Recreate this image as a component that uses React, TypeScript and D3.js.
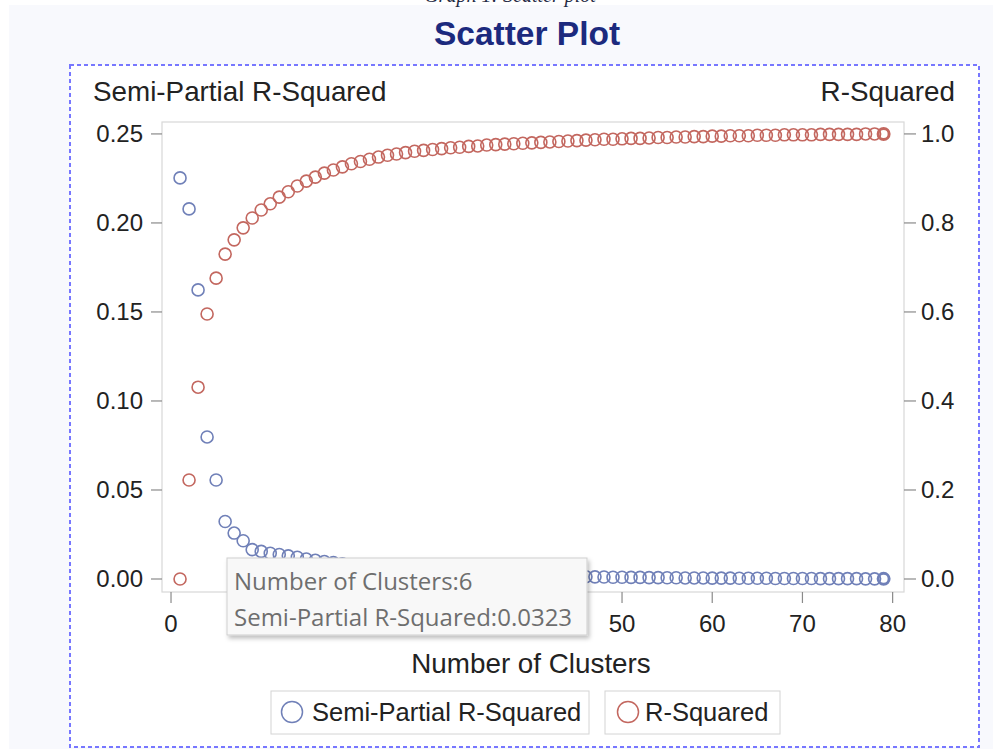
import React from "react";
import * as d3 from "d3";

const clusters: number[] = d3.range(1, 80);

const semiPartialRSq: number[] = [
  0.2253, 0.2079, 0.1624, 0.0798, 0.0556, 0.0323, 0.0258, 0.0215, 0.0165, 0.0155,
  0.0145, 0.0138, 0.013, 0.0122, 0.0112, 0.0105, 0.0098, 0.0092, 0.0086, 0.008,
  0.0075, 0.007, 0.0065, 0.0061, 0.0057, 0.0053, 0.0049, 0.0046, 0.0043, 0.004,
  0.0037, 0.0035, 0.0032, 0.003, 0.0028, 0.0026, 0.0024, 0.0022, 0.0021, 0.0019,
  0.0018, 0.0017, 0.0016, 0.0015, 0.0014, 0.0013, 0.0012, 0.0011, 0.001, 0.001,
  0.0009, 0.0009, 0.0008, 0.0008, 0.0007, 0.0007, 0.0006, 0.0006, 0.0006, 0.0005,
  0.0005, 0.0005, 0.0004, 0.0004, 0.0004, 0.0004, 0.0003, 0.0003, 0.0003, 0.0003,
  0.0003, 0.0002, 0.0002, 0.0002, 0.0002, 0.0002, 0.0001, 0.0001, 0.0001,
];

const rSquared: number[] = [
  0.0, 0.2225, 0.431, 0.5955, 0.676, 0.73, 0.762, 0.789, 0.811, 0.829,
  0.843, 0.858, 0.87, 0.883, 0.894, 0.903, 0.912, 0.919, 0.926, 0.933,
  0.938, 0.943, 0.948, 0.952, 0.955, 0.958, 0.961, 0.963, 0.965, 0.967,
  0.969, 0.97, 0.972, 0.973, 0.975, 0.976, 0.977, 0.978, 0.979, 0.98,
  0.981, 0.982, 0.983, 0.984, 0.985, 0.986, 0.987, 0.988, 0.988, 0.989,
  0.99, 0.99, 0.991, 0.992, 0.992, 0.993, 0.993, 0.994, 0.994, 0.995,
  0.995, 0.996, 0.996, 0.996, 0.997, 0.997, 0.997, 0.998, 0.998, 0.998,
  0.998, 0.999, 0.999, 0.999, 0.999, 0.999, 1.0, 1.0, 1.0,
];

const xTicks: number[] = [0, 10, 20, 30, 40, 50, 60, 70, 80];
const leftTicks: number[] = [0, 0.05, 0.1, 0.15, 0.2, 0.25];
const rightTicks: number[] = [0, 0.2, 0.4, 0.6, 0.8, 1.0];

const seriesNames: string[] = ["Semi-Partial R-Squared", "R-Squared"];
const tooltipLines: string[] = ["Number of Clusters:6", "Semi-Partial R-Squared:0.0323"];

const BLUE = "#7080b8";
const RED = "#c3675f";
const FONT = "'Liberation Sans', Arial, sans-serif";

export default function App() {
  const W = 993;
  const H = 749;
  const plot = { left: 162, right: 904, top: 122, bottom: 592 };

  const x = d3.scaleLinear().domain([-1, 81.26]).range([plot.left, plot.right]);
  const yL = d3.scaleLinear().domain([-0.0073, 0.2567]).range([plot.bottom, plot.top]);
  const yR = d3.scaleLinear().domain([-0.0292, 1.0268]).range([plot.bottom, plot.top]);

  const fmtL = d3.format(".2f");
  const fmtR = d3.format(".1f");
  const last = clusters.length - 1;

  return (
    <svg
      width={W}
      height={H}
      style={{ position: "absolute", left: 0, top: 0, background: "#ffffff" }}
    >
      <defs>
        <filter id="shadow" x="-10%" y="-20%" width="125%" height="150%">
          <feDropShadow dx="2" dy="3" stdDeviation="2" floodColor="#000" floodOpacity="0.25" />
        </filter>
      </defs>
      <rect x={9} y={5} width={W - 9} height={H - 5} fill="#f8f9fd" />
      <text
        x={510}
        y={2}
        textAnchor="middle"
        fontFamily="'Liberation Serif', serif"
        fontStyle="italic"
        fontSize={20}
        fill="#1f2a44"
      >
        Graph 1: Scatter plot
      </text>
      <text
        x={527}
        y={45}
        textAnchor="middle"
        fontFamily={FONT}
        fontWeight="bold"
        fontSize={33.5}
        fill="#1c2a7e"
      >
        Scatter Plot
      </text>

      <rect
        x={70}
        y={65}
        width={909}
        height={682}
        fill="#ffffff"
        stroke="#7777ff"
        strokeWidth={2}
        strokeDasharray="4 3"
      />

      {/* axis labels */}
      <text x={93} y={101} fontFamily={FONT} fontSize={27.8} fill="#222">
        {seriesNames[0]}
      </text>
      <text x={955} y={101} textAnchor="end" fontFamily={FONT} fontSize={27.8} fill="#222">
        {seriesNames[1]}
      </text>
      <text x={531} y={673} textAnchor="middle" fontFamily={FONT} fontSize={27.8} fill="#222">
        Number of Clusters
      </text>

      {/* plot frame */}
      <rect
        x={plot.left}
        y={plot.top}
        width={plot.right - plot.left}
        height={plot.bottom - plot.top}
        fill="#ffffff"
        stroke="#d8d8d8"
        strokeWidth={1.2}
      />

      {/* left axis */}
      {leftTicks.map((t) => (
        <g key={"l" + t}>
          <line x1={151} x2={plot.left} y1={yL(t)} y2={yL(t)} stroke="#8a8a8a" strokeWidth={1.2} />
          <text x={143} y={yL(t) + 8} textAnchor="end" fontFamily={FONT} fontSize={24} fill="#222">
            {fmtL(t)}
          </text>
        </g>
      ))}
      {/* right axis */}
      {rightTicks.map((t) => (
        <g key={"r" + t}>
          <line x1={plot.right} x2={916} y1={yR(t)} y2={yR(t)} stroke="#8a8a8a" strokeWidth={1.2} />
          <text x={921} y={yR(t) + 8} textAnchor="start" fontFamily={FONT} fontSize={24} fill="#222">
            {fmtR(t)}
          </text>
        </g>
      ))}
      {/* bottom axis */}
      {xTicks.map((t) => (
        <g key={"x" + t}>
          <line x1={x(t)} x2={x(t)} y1={plot.bottom} y2={603} stroke="#8a8a8a" strokeWidth={1.2} />
          <text x={x(t)} y={632} textAnchor="middle" fontFamily={FONT} fontSize={24} fill="#222">
            {t}
          </text>
        </g>
      ))}

      {/* markers */}
      {clusters.map((c, i) => (
        <circle
          key={"r" + c}
          cx={x(c)}
          cy={yR(rSquared[i])}
          r={i === last ? 5.5 : 6}
          fill="none"
          stroke={RED}
          strokeWidth={i === last ? 3 : 1.6}
        />
      ))}
      {clusters.map((c, i) => (
        <circle
          key={"b" + c}
          cx={x(c)}
          cy={yL(semiPartialRSq[i])}
          r={i === last ? 5.5 : 6}
          fill="none"
          stroke={BLUE}
          strokeWidth={i === last ? 3 : 1.6}
        />
      ))}

      {/* tooltip */}
      <g filter="url(#shadow)">
        <rect x={227} y={558} width={360} height={77} fill="#f8f8f8" stroke="#cfcfcf" strokeWidth={1} />
      </g>
      <text x={234} y={590} fontFamily="'Open Sans', 'Noto Sans', sans-serif" fontSize={24} fill="#6e6e6e">
        {tooltipLines[0]}
      </text>
      <text x={234} y={626} fontFamily="'Open Sans', 'Noto Sans', sans-serif" fontSize={24} fill="#6e6e6e">
        {tooltipLines[1]}
      </text>

      {/* legend */}
      <rect x={271} y={691} width={318} height={43} fill="#ffffff" stroke="#d4d4d4" strokeWidth={1} />
      <circle cx={292} cy={712} r={10.5} fill="none" stroke={BLUE} strokeWidth={1.5} />
      <text x={312} y={721} fontFamily={FONT} fontSize={25.5} fill="#222">
        {seriesNames[0]}
      </text>
      <rect x={605} y={691} width={175} height={43} fill="#ffffff" stroke="#d4d4d4" strokeWidth={1} />
      <circle cx={628} cy={712} r={10.5} fill="none" stroke={RED} strokeWidth={1.5} />
      <text x={645} y={721} fontFamily={FONT} fontSize={25.5} fill="#222">
        {seriesNames[1]}
      </text>
    </svg>
  );
}
